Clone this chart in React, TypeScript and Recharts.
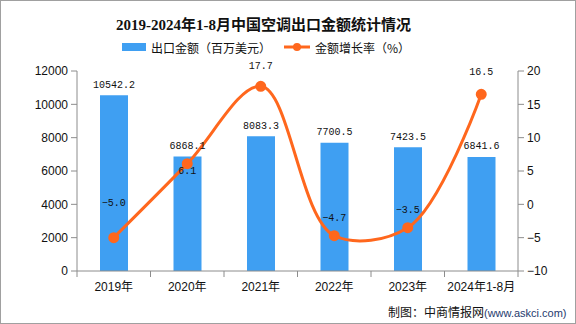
import {
    ComposedChart,
    Bar,
    Line,
    XAxis,
    YAxis,
    LabelList
} from "recharts";

const years = ["2019年", "2020年", "2021年", "2022年", "2023年", "2024年1-8月"];
const exportValue = [10542.2, 6868.1, 8083.3, 7700.5, 7423.5, 6841.6];
const growthRate = [-5.0, 6.1, 17.7, -4.7, -3.5, 16.5];
const leftTicks = [0, 2000, 4000, 6000, 8000, 10000, 12000];
const rightTicks = [-10, -5, 0, 5, 10, 15, 20];

const data = years.map((year, i) => ({
    year,
    value: exportValue[i],
    rate: growthRate[i]
}));

const BLUE = "#3f9ff2";
const ORANGE = "#ff671d";
const AXIS = "#8c8c8c";
const BAND = 441 / 6;

// offsets of the rate labels, as drawn in the source picture
const rateLabelDy = [-34, 8, -20, -17, -17, -22];

// catmull-rom spline (alpha param), works like d3's curveCatmullRom
function smoothCurve(alpha: number) {
    return (context: any) => {
        let pts: number[][] = [];
        let line = NaN;
        return {
            areaStart() { line = 0; },
            areaEnd() { line = NaN; },
            lineStart() { pts = []; },
            lineEnd() {
                const n = pts.length;
                if (!n) return;
                context.moveTo(pts[0][0], pts[0][1]);
                if (n === 2) context.lineTo(pts[1][0], pts[1][1]);
                for (let i = 0; i < n - 1; i++) {
                    const p0 = pts[Math.max(0, i - 1)];
                    const p1 = pts[i];
                    const p2 = pts[i + 1];
                    const p3 = pts[Math.min(n - 1, i + 2)];
                    const d = (a: number[], b: number[]) => Math.hypot(b[0] - a[0], b[1] - a[1]);
                    const l01 = d(p0, p1), l12 = d(p1, p2), l23 = d(p2, p3);
                    const l01a = Math.pow(l01, alpha), l12a = Math.pow(l12, alpha), l23a = Math.pow(l23, alpha);
                    const l01b = l01a * l01a, l12b = l12a * l12a, l23b = l23a * l23a;
                    let c1 = [p1[0], p1[1]];
                    let c2 = [p2[0], p2[1]];
                    if (l01 > 1e-6) {
                        const a = 2 * l01b + 3 * l01a * l12a + l12b;
                        const m = 3 * l01a * (l01a + l12a);
                        c1 = [0, 1].map((k) => (p1[k] * a - p0[k] * l12b + p2[k] * l01b) / m);
                    }
                    if (l23 > 1e-6) {
                        const b = 2 * l23b + 3 * l23a * l12a + l12b;
                        const m = 3 * l23a * (l23a + l12a);
                        c2 = [0, 1].map((k) => (p2[k] * b + p1[k] * l23b - p3[k] * l12b) / m);
                    }
                    context.bezierCurveTo(c1[0], c1[1], c2[0], c2[1], p2[0], p2[1]);
                }
                if (line === 0) context.closePath();
            },
            point(x: number, y: number) { pts.push([+x, +y]); }
        };
    };
}

const XTick = (props: any) => {
    const { x, y, payload, index } = props;
    return (
        <g>
            <line x1={x - BAND / 2} x2={x - BAND / 2} y1={y} y2={y + 6} stroke={AXIS} />
            {index === years.length - 1 && (
                <line x1={x + BAND / 2} x2={x + BAND / 2} y1={y} y2={y + 6} stroke={AXIS} />
            )}
            <text x={x} y={y + 16} textAnchor="middle" dominantBaseline="central"
                fontSize={12} fill="#111" fontFamily="Liberation Sans, Noto Sans CJK SC">
                {payload.value}
            </text>
        </g>
    );
};

const RateLabel = (props: any) => {
    const { x, y, value, index } = props;
    return (
        <text x={x} y={y + rateLabelDy[index]} textAnchor="middle" dominantBaseline="central"
            fontSize={10} fill="#111" fontFamily="Liberation Mono">
            {Number(value).toFixed(1).replace("-", "−")}
        </text>
    );
};

const ValueLabel = (props: any) => {
    const { x, y, width, value } = props;
    return (
        <text x={x + width / 2} y={y - 10} textAnchor="middle" dominantBaseline="central"
            fontSize={10} fill="#111" fontFamily="Liberation Mono">
            {Number(value).toFixed(1)}
        </text>
    );
};

const tickStyle = { fontSize: 12, fill: "#111", fontFamily: "Liberation Sans" };

export default function App() {
    return (
        <div style={{
            position: "absolute", left: 0, top: 0, width: 576, height: 324,
            boxSizing: "border-box", border: "1px solid #a0a0a0", background: "#fff",
            fontFamily: "Noto Sans CJK SC"
        }}>
            <div style={{
                position: "absolute", left: 115, top: 12, width: 293, textAlign: "center",
                fontSize: 15, fontWeight: "bold", color: "#111",
                fontFamily: "Liberation Serif, Noto Sans CJK SC", whiteSpace: "nowrap"
            }}>
                2019-2024年1-8月中国空调出口金额统计情况
            </div>
            <div style={{
                position: "absolute", left: 121, top: 37, height: 18, display: "flex",
                alignItems: "center", fontSize: 12, color: "#111", whiteSpace: "nowrap"
            }}>
                <span style={{ display: "inline-block", width: 24, height: 8, background: BLUE, marginRight: 5 }} />
                <span>出口金额（百万美元）</span>
                <svg width={26} height={10} style={{ marginLeft: 13, marginRight: 5 }}>
                    <line x1={0} x2={26} y1={5} y2={5} stroke={ORANGE} strokeWidth={3} />
                    <circle cx={13} cy={5} r={4} fill={ORANGE} />
                </svg>
                <span>金额增长率（%）</span>
            </div>
            <ComposedChart width={574} height={322} data={data}
                margin={{ top: 70, right: 0, bottom: 0, left: -1 }}
                style={{ position: "absolute", left: 0, top: 0 }}>
                <XAxis dataKey="year" height={52} stroke={AXIS} tickLine={false}
                    tickSize={0} tickMargin={0} tick={<XTick />} interval={0} />
                <YAxis yAxisId="left" width={77} domain={[0, 12000]} ticks={leftTicks}
                    stroke={AXIS} tick={tickStyle} tickSize={6} tickMargin={3}
                    interval={0} />
                <YAxis yAxisId="right" orientation="right" width={57} domain={[-10, 20]}
                    ticks={rightTicks} stroke={AXIS} tick={tickStyle} tickSize={6}
                    tickMargin={3} interval={0}
                    tickFormatter={(v: number) => String(v).replace("-", "−")} />
                <Bar yAxisId="left" dataKey="value" fill={BLUE} barSize={28}
                    isAnimationActive={false}>
                    <LabelList dataKey="value" content={<ValueLabel />} />
                </Bar>
                <Line yAxisId="right" dataKey="rate" type={smoothCurve(0.6) as any} stroke={ORANGE}
                    strokeWidth={3} dot={{ r: 4, fill: ORANGE, stroke: ORANGE }}
                    isAnimationActive={false}>
                    <LabelList dataKey="rate" content={<RateLabel />} />
                </Line>
            </ComposedChart>
            <div style={{
                position: "absolute", left: 387, top: 302, fontSize: 12, color: "#111",
                whiteSpace: "nowrap"
            }}>
                制图：中商情报网<span style={{ fontSize: 11, color: "#1f3a6e", fontFamily: "Liberation Sans" }}>(www.askci.com)</span>
            </div>
        </div>
    );
}
